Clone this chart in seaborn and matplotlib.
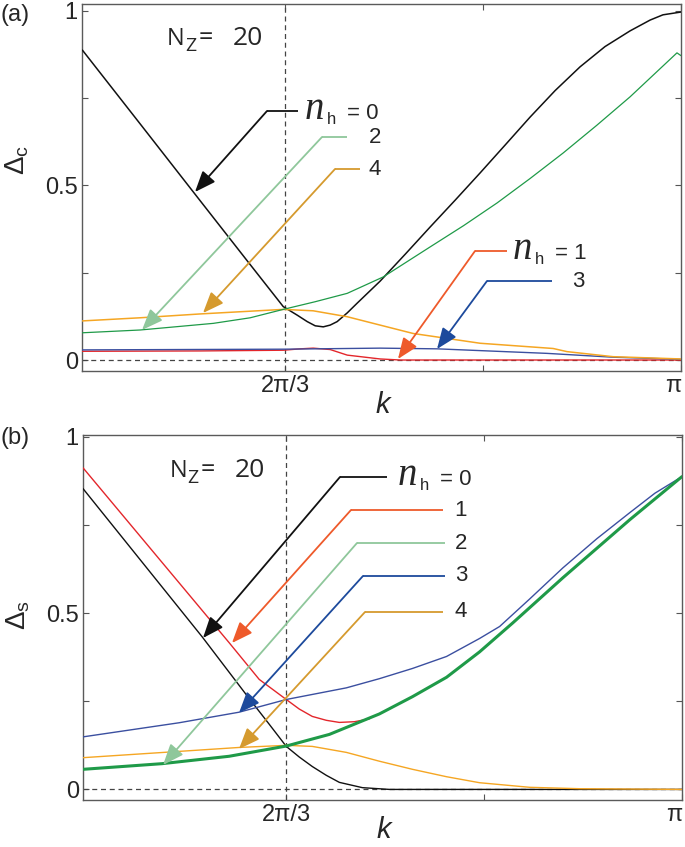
import numpy as np
import pandas as pd
import matplotlib
matplotlib.use("Agg")
import matplotlib.pyplot as plt
import seaborn as sns

# k is given in units of pi
K_MIN = 0.4955

# (a) Delta_c, N_z = 20
ka_n0 = [0.4958, 0.5446, 0.5951, 0.6347, 0.6650, 0.6770, 0.6852, 0.6919, 0.6987, 0.7045, 0.7104,
         0.7189, 0.7273, 0.7466, 0.7677, 0.7887, 0.8098, 0.8308, 0.8519, 0.8729, 0.8940, 0.9150,
         0.9360, 0.9571, 0.9740, 0.9848, 1.0]
da_n0 = [0.888, 0.676, 0.456, 0.284, 0.153, 0.128, 0.110, 0.098, 0.095, 0.100, 0.110,
         0.135, 0.163, 0.226, 0.303, 0.381, 0.458, 0.536, 0.616, 0.696, 0.772, 0.840,
         0.898, 0.943, 0.974, 0.989, 0.997]
ka_n1 = [0.4958, 0.5951, 0.6650, 0.6793, 0.6902, 0.7045, 0.7189, 0.7466, 0.7635, 1.0]
da_n1 = [0.025, 0.026, 0.028, 0.032, 0.034, 0.030, 0.014, 0.003, 0.0, 0.0]
ka_n2 = [0.4958, 0.5446, 0.6061, 0.6372, 0.6650, 0.6919, 0.7189, 0.7492, 0.7887, 0.8169, 0.8451,
         0.8729, 0.9007, 0.9289, 0.9571, 0.9966, 1.0]
da_n2 = [0.078, 0.086, 0.105, 0.121, 0.145, 0.167, 0.191, 0.238, 0.324, 0.385, 0.450,
         0.520, 0.593, 0.672, 0.754, 0.880, 0.872]
ka_n3 = [0.4958, 0.6650, 0.7466, 0.7946, 0.8872, 0.9428, 1.0]
da_n3 = [0.029, 0.031, 0.034, 0.032, 0.019, 0.008, 0.002]
ka_n4 = [0.4958, 0.5446, 0.5951, 0.6650, 0.6902, 0.7189, 0.7466, 0.7744, 0.8308, 0.8923, 0.9040,
         0.9428, 1.0]
da_n4 = [0.112, 0.121, 0.132, 0.145, 0.141, 0.124, 0.100, 0.076, 0.048, 0.033, 0.024,
         0.0095, 0.003]

# (b) Delta_s, N_z = 20
kb_n0 = [0.4955, 0.5958, 0.6354, 0.6523, 0.6667, 0.6776, 0.6886, 0.7004, 0.7114, 0.7308, 0.7536, 1.0]
ds_n0 = [0.853, 0.433, 0.258, 0.185, 0.122, 0.092, 0.065, 0.040, 0.020, 0.005, 0.0, 0.0]
kb_n1 = [0.4955, 0.6186, 0.6439, 0.6667, 0.6776, 0.6886, 0.7004, 0.7114, 0.7241, 0.7367]
ds_n1 = [0.912, 0.416, 0.312, 0.255, 0.228, 0.207, 0.196, 0.190, 0.192, 0.200]
kb_n2 = [0.4955, 0.5620, 0.6186, 0.6667, 0.7030, 0.7451, 0.7730, 0.8017, 0.8295, 0.8574, 0.8996,
         0.9561, 1.0]
ds_n2 = [0.057, 0.073, 0.094, 0.123, 0.156, 0.214, 0.263, 0.318, 0.390, 0.472, 0.600,
         0.765, 0.887]
kb_n3 = [0.4955, 0.5764, 0.6270, 0.6667, 0.7173, 0.7451, 0.7730, 0.8017, 0.8295, 0.8464, 0.8717,
         0.8996, 0.9283, 0.9561, 0.9772, 1.0]
ds_n3 = [0.149, 0.189, 0.219, 0.255, 0.288, 0.314, 0.343, 0.377, 0.428, 0.462, 0.540,
         0.628, 0.711, 0.785, 0.840, 0.887]
kb_n4 = [0.4955, 0.6270, 0.6667, 0.6886, 0.7173, 0.7451, 0.7730, 0.8017, 0.8295, 0.8717, 0.9139, 1.0]
ds_n4 = [0.090, 0.119, 0.125, 0.122, 0.105, 0.080, 0.057, 0.036, 0.019, 0.006, 0.002, 0.0]

CURVE = {0: "#111111", 1: "#e3262b", 2: "#1f9a48", 3: "#3b4fa0", 4: "#f5a623"}
ARROW = {0: "#111111", 1: "#ee5a2b", 2: "#8fc79b", 3: "#1d4a9c", 4: "#d59a2e"}

# leader arrows, axes fraction: (n_h, tip, elbow, end of horizontal part)
arrows_a = [(0, (0.1886, 0.4877), (0.3088, 0.7084), (0.3606, 0.7084)),
            (2, (0.1002, 0.1117), (0.4007, 0.6376), (0.4424, 0.6376)),
            (4, (0.2020, 0.1580), (0.4224, 0.5504), (0.4641, 0.5504)),
            (1, (0.5275, 0.0327), (0.6561, 0.3270), (0.7095, 0.3270)),
            (3, (0.5927, 0.0599), (0.6761, 0.2452), (0.7846, 0.2452))]
arrows_b = [(0, (0.2003, 0.4438), (0.4290, 0.8849), (0.5075, 0.8849)),
            (1, (0.2487, 0.4301), (0.4474, 0.7945), (0.6010, 0.7945)),
            (2, (0.1336, 0.0959), (0.4574, 0.7041), (0.6043, 0.7041)),
            (3, (0.2604, 0.2384), (0.4674, 0.6137), (0.6043, 0.6137)),
            (4, (0.2604, 0.1397), (0.4708, 0.5151), (0.6010, 0.5151))]
# labels: (n_h, x, y, full "n_h = .." label or just the number)
labels_a = [(0, 0.3723, 0.7084, True), (2, 0.4992, 0.6376, False), (4, 0.4992, 0.5504, False),
            (1, 0.7195, 0.3270, True), (3, 0.8381, 0.2452, False)]
labels_b = [(0, 0.5259, 0.8849, True), (1, 0.6411, 0.7945, False), (2, 0.6411, 0.7041, False),
            (3, 0.6411, 0.6137, False), (4, 0.6411, 0.5151, False)]

sns.set_theme(style="ticks")
plt.rcParams["font.family"] = ["Liberation Sans", "DejaVu Sans"]
plt.rcParams["mathtext.fontset"] = "custom"
plt.rcParams["mathtext.rm"] = "Liberation Sans"
plt.rcParams["mathtext.it"] = "Liberation Sans:italic"


def to_df(k, gap):
    return pd.DataFrame({"k": np.array(k) * np.pi, "gap": gap})


def style_axes(ax, ylim, ylabel, label_y, k_y):
    ax.set_xlim(K_MIN * np.pi, np.pi)
    ax.set_ylim(*ylim)
    ax.axhline(0, color="#444444", lw=0.9, ls=(0, (4, 3)), zorder=1)
    ax.axvline(2 * np.pi / 3, color="#444444", lw=0.9, ls=(0, (4, 3)), zorder=1)
    ax.set_xticks([2 * np.pi / 3, 5 * np.pi / 6, np.pi])
    ax.set_xticklabels(["2π/3", "", "π"])
    ax.get_xticklabels()[-1].set_horizontalalignment("right")
    ax.set_yticks([0, 0.25, 0.5, 0.75, 1])
    ax.set_yticklabels(["0", "", "0.5", "", "1"])
    ax.tick_params(direction="in", top=True, right=True, length=4.5, width=0.8,
                   labelsize=17, pad=3, color="#555555")
    for s in ax.spines.values():
        s.set_color("#5a5a5a")
        s.set_linewidth(1.0)
    ax.set_xlabel("k", fontsize=21, style="italic")
    ax.xaxis.set_label_coords(0.502, k_y)
    ax.set_ylabel(ylabel, fontsize=20)
    ax.yaxis.set_label_coords(-0.085, label_y)


def composite(ax, x, y, pieces):
    # pieces: (text, dx_pt, dy_pt, size, family, style)
    for s, dx, dy, size, fam, sty in pieces:
        ax.annotate(s, (x, y), xycoords="axes fraction", xytext=(dx, dy),
                    textcoords="offset points", ha="left", va="baseline",
                    fontsize=size, family=fam, style=sty)


def draw_arrows(ax, arrows, labels):
    for nh, tip, elbow, end in arrows:
        c = ARROW[nh]
        ax.plot([elbow[0], end[0]], [elbow[1], end[1]], color=c, lw=1.3,
                transform=ax.transAxes, solid_capstyle="butt")
        ax.annotate("", xy=tip, xycoords="axes fraction", xytext=elbow,
                    textcoords="axes fraction",
                    arrowprops=dict(arrowstyle="-|>,head_length=0.8,head_width=0.32",
                                    color=c, lw=1.3, shrinkA=0, shrinkB=0,
                                    mutation_scale=16))
    for nh, x, y, full in labels:
        if full:
            composite(ax, x, y, [("n", 0, -6, 28, "Liberation Serif", "italic"),
                                 ("h", 15.5, -9.5, 12, "Liberation Sans", "normal"),
                                 (f"= {nh}", 30, -6, 16, "Liberation Sans", "normal")])
        else:
            ax.annotate(str(nh), (x, y), xycoords="axes fraction", ha="right",
                        va="center", fontsize=16)


def nz_text(ax, x, y):
    composite(ax, x, y, [("N", 0, 0, 17, "Open Sans", "normal"),
                         ("Z", 12.8, -4, 14, "Open Sans", "normal"),
                         ("=", 22.5, 0, 18, "Open Sans", "normal"),
                         ("20", 47, 0, 19, "Open Sans", "normal")])


fig = plt.figure(figsize=(6.85, 8.47), dpi=100)
ax1 = fig.add_axes([82 / 685, 1 - 371 / 847, 599 / 685, 367 / 847])
ax2 = fig.add_axes([83 / 685, 1 - 800 / 847, 599 / 685, 365 / 847])

panel_a = [(ka_n0, da_n0, 0, 1.1), (ka_n1, da_n1, 1, 1.0), (ka_n3, da_n3, 3, 1.0),
           (ka_n4, da_n4, 4, 1.1), (ka_n2, da_n2, 2, 0.9)]
for k, g, nh, lw in panel_a:
    sns.lineplot(data=to_df(k, g), x="k", y="gap", color=CURVE[nh], lw=lw,
                 estimator=None, sort=False, ax=ax1, zorder=3)

panel_b = [(kb_n0, ds_n0, 0, 1.0), (kb_n1, ds_n1, 1, 1.0), (kb_n3, ds_n3, 3, 1.0),
           (kb_n4, ds_n4, 4, 1.0), (kb_n2, ds_n2, 2, 2.2)]
for k, g, nh, lw in panel_b:
    sns.lineplot(data=to_df(k, g), x="k", y="gap", color=CURVE[nh], lw=lw,
                 estimator=None, sort=False, ax=ax2, zorder=3)

style_axes(ax1, (-0.0315, 1.02), r"$\Delta_{\mathrm{c}}$", 0.575, -0.055)
style_axes(ax2, (-0.03, 1.005), r"$\Delta_{\mathrm{s}}$", 0.507, -0.045)

draw_arrows(ax1, arrows_a, labels_a)
draw_arrows(ax2, arrows_b, labels_b)

nz_text(ax1, 0.142, 0.888)
nz_text(ax2, 0.145, 0.885)

fig.text(0.0, 1 - 4 / 847, "(a)", fontsize=17, va="top", ha="left")
fig.text(0.0, 1 - 427 / 847, "(b)", fontsize=17, va="top", ha="left")

fig.savefig("out.png", dpi=100)
